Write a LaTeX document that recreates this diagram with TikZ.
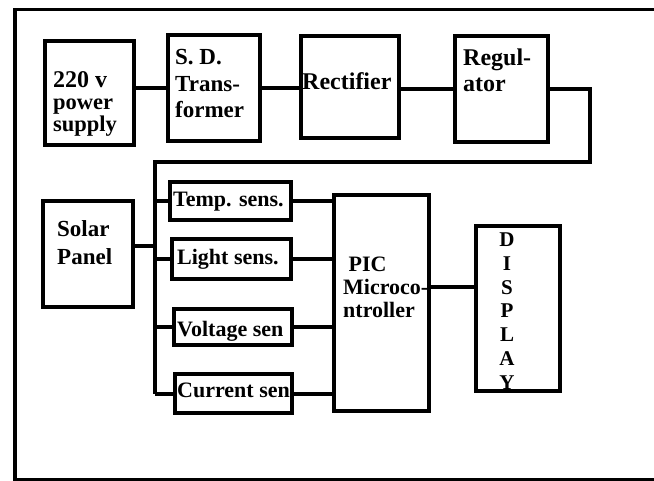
\documentclass[tikz,border=0pt]{standalone}
\usepackage{fontspec}
\setmainfont{Liberation Serif}
\usetikzlibrary{positioning}
\tikzset{
  blk/.style  ={draw, line width=4.5pt, inner sep=0pt},
  wire/.style ={line width=4pt},
  frame/.style={line width=3.5pt},
  lbl/.style 2 args={anchor=base west, inner sep=0pt, align=left,
                font=\bfseries\fontsize{#1}{#2}\selectfont},
}
\begin{document}
\begin{tikzpicture}[x=1pt,y=-1pt]
  \useasboundingbox (0,0) rectangle (654,481);
  \draw[frame] (15,9.5) rectangle (660,479.5);
  % supply chain
  \node[blk,minimum width=89pt,minimum height=104pt]  (pwr)   at (89.5,93)  {};
  \node[blk,minimum width=92pt,minimum height=106pt]  (trf)   at (214,88)   {};
  \node[blk,minimum width=98pt,minimum height=102pt]  (rect)  at (350,87)   {};
  \node[blk,minimum width=93pt,minimum height=106pt]  (reg)   at (501.5,89) {};
  % sensors
  \node[blk,minimum width=90pt,minimum height=106pt]  (solar) at (88,254)   {};
  \node[blk,minimum width=121pt,minimum height=38pt]  (temp)  at (230.5,201) {};
  \node[blk,minimum width=119pt,minimum height=40pt]  (light) at (231.5,259) {};
  \node[blk,minimum width=118pt,minimum height=36pt]  (volt)  at (233,327)  {};
  \node[blk,minimum width=117pt,minimum height=39pt]  (curr)  at (233.5,393.5) {};
  \node[blk,minimum width=95pt,minimum height=216pt]  (pic)   at (381.5,303) {};
  \node[anchor=base, inner sep=0pt, align=center,
        font=\bfseries\fontsize{21}{23.7}\selectfont] (dtxt) at (507,389)
        {D\\I\\S\\P\\L\\A\\Y};
  \node[blk,minimum width=84pt,minimum height=165pt]  (disp)  at (518,308.5) {};

  % labels (base = last line)
  \node[lbl={22.5}{22}]   (pwrT)   at (53,132)  {\fontsize{24}{22}\selectfont 220 v\\power\\supply};
  \node[lbl={23}{26.5}]   (trfT)   at (175,118) {S. D.\\Trans-\\former};
  \node[lbl={24}{26}]     (rectT)  at (302,90)  {Rectifier};
  \node[lbl={24}{26}]     (regT)   at (463,92)  {Regul-\\ator};
  \node[lbl={23}{28}]     (solarT) at (57,265)  {Solar\\Panel};
  \node[lbl={22}{26}]     (tempT)  at (173,207) {Temp. sens.};
  \node[lbl={22}{26}]     (lightT) at (177,265) {Light sens.};
  \node[lbl={22}{26}]     (voltT)  at (177,337) {Voltage sen};
  \node[lbl={22}{26}]     (currT)  at (177,398) {Current sen};
  \node[lbl={22}{23.5}]   (picT)   at (343,318) {~PIC\\Microco-\\ntroller};

  \coordinate (bustop) at (155,162);
  \coordinate (loopc)  at (590,162);
  \coordinate (jsol)   at (155,246);
  \coordinate (dispin) at (0,287);

  \draw[wire] (pwr.east |- trf.west) -- (trf.west);
  \draw[wire] (trf.east) -- (trf.east -| rect.west);
  \draw[wire] (rect.east |- reg.west) -- (reg.west);
  \draw[wire] (reg.east) -| (loopc) -- (bustop) -- (bustop |- curr.west);
  \draw[wire] (jsol -| solar.east) -- (jsol);
  \foreach \s in {temp,light,volt,curr}{
    \draw[wire] (\s.west -| bustop) -- (\s.west);
    \draw[wire] (\s.east) -- (\s.east -| pic.west);
  }
  \draw[wire] (dispin -| pic.east) -- (dispin -| disp.west);
\end{tikzpicture}
\end{document}
